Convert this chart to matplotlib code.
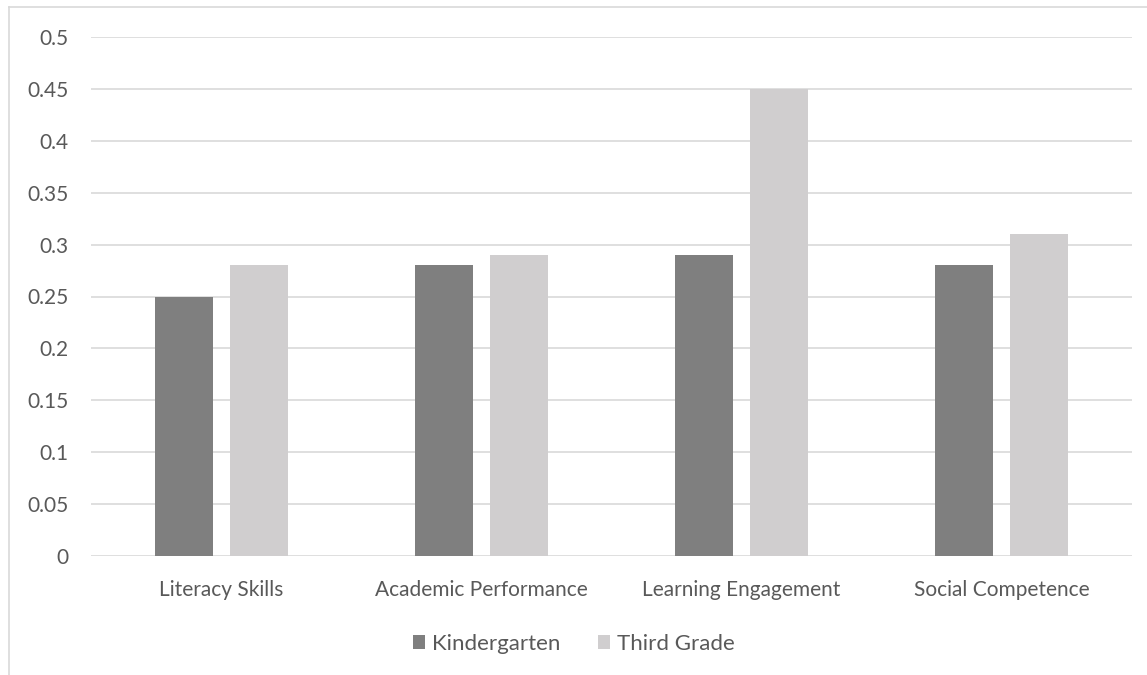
import matplotlib.pyplot as plt
from matplotlib.lines import Line2D
import numpy as np

categories = ["Literacy Skills", "Academic Performance", "Learning Engagement", "Social Competence"]
kindergarten = [0.25, 0.28, 0.29, 0.28]
third_grade = [0.28, 0.29, 0.45, 0.31]
yticks = [0, 0.05, 0.1, 0.15, 0.2, 0.25, 0.3, 0.35, 0.4, 0.45, 0.5]

plt.rcParams['font.family'] = ['Lato', 'DejaVu Sans']
text_color = '#595959'

fig = plt.figure(figsize=(11.47, 6.75), dpi=100)
W, H = 1147, 675
ax = fig.add_axes([91 / W, 1 - 556 / H, (1132 - 91) / W, (556 - 37) / H])

x = np.arange(len(categories))
bw = 0.223
off = (bw + 0.065) / 2
ax.bar(x - off, kindergarten, bw, color='#7f7f7f', label='Kindergarten', zorder=3)
ax.bar(x + off, third_grade, bw, color='#d0cecf', label='Third Grade', zorder=3)

ax.set_xlim(-0.5, len(categories) - 0.5)
ax.set_ylim(0, 0.5)
ax.set_yticks(yticks)
ax.set_yticklabels([f"{v:g}" for v in yticks])
ax.set_xticks(x)
ax.set_xticklabels(categories)
ax.tick_params(axis='both', length=0, colors=text_color, labelsize=15)
ax.tick_params(axis='y', pad=16)
ax.tick_params(axis='x', pad=17)
ax.grid(axis='y', color='#d9d9d9', linewidth=1.2, zorder=0)
for s in ax.spines.values():
    s.set_visible(False)

ax.legend(loc='center', bbox_to_anchor=(0.5, 1 - 644 / H), bbox_transform=fig.transFigure,
          ncol=2, frameon=False, fontsize=16, labelcolor=text_color,
          handlelength=0.55, handleheight=0.55, handletextpad=0.3, columnspacing=1.7)

# chart frame
fig.add_artist(Line2D([9 / W, 9 / W], [0, 1 - 7 / H], color='#d9d9d9', linewidth=1.2))
fig.add_artist(Line2D([9 / W, 1], [1 - 7 / H, 1 - 7 / H], color='#d9d9d9', linewidth=1.2))

fig.savefig('out.png', dpi=100, facecolor='white')
